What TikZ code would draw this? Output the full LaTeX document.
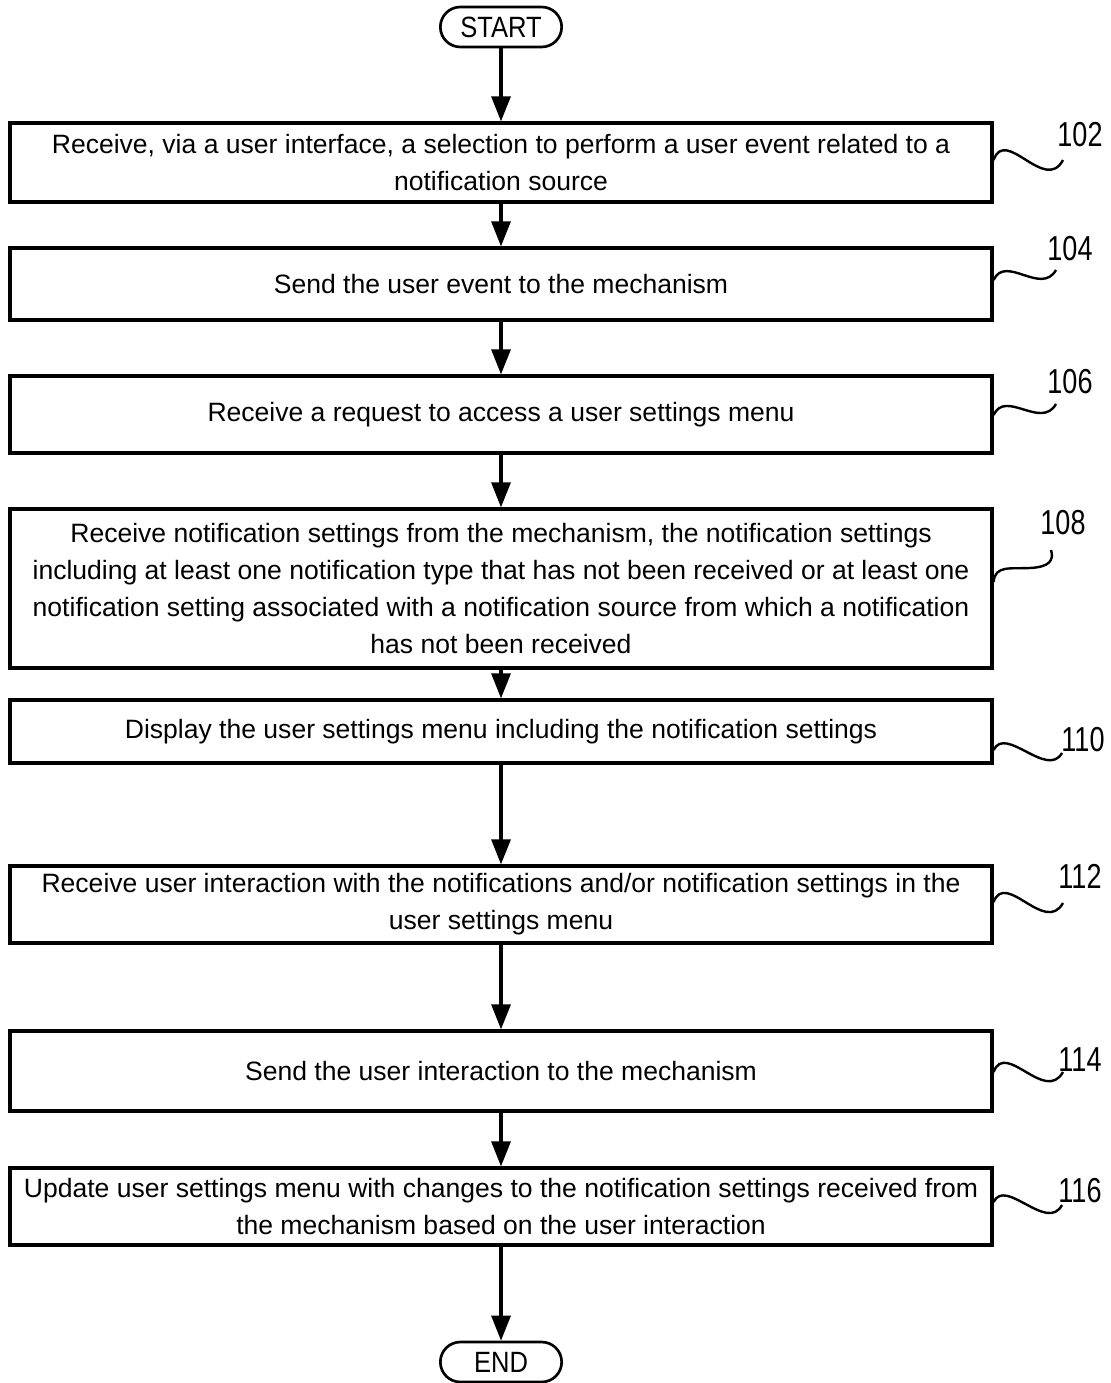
\documentclass[tikz,border=0pt]{standalone}
\usepackage{fontspec}
\setmainfont{Liberation Sans}
\newfontfamily\narrowfont[FakeStretch=0.78]{Liberation Sans}
\newfontfamily\termfont[FakeStretch=0.87]{Liberation Sans}
\usetikzlibrary{arrows.meta}
\begin{document}
\begin{tikzpicture}[x=0.75pt,y=-0.75pt,
  stepbox/.style={draw,line width=2.4pt,minimum width=736.5pt,inner sep=0pt,align=center,
    font=\fontsize{19.9}{27.75}\selectfont},
  term/.style={draw,line width=2pt,rounded corners=15pt,minimum width=91pt,minimum height=30pt,inner sep=0pt,
    font=\termfont\fontsize{22}{24}\selectfont},
  flow/.style={line width=2.3pt,-{Triangle[length=18.75pt,width=14.25pt]}},
  ref/.style={font=\narrowfont\fontsize{26}{28}\selectfont,inner sep=0pt},
  squig/.style={line width=1.8pt}]
\useasboundingbox (0,0) rectangle (1110,1383);
\node[term] (start) at (501,27) {START};
\node[stepbox,minimum height=59.25pt] (b102) at (501,162.5) {Receive, via a user interface, a selection to perform a user event related to a\\notification source};
\node[stepbox,minimum height=54pt] (b104) at (501,284) {Send the user event to the mechanism};
\node[stepbox,minimum height=57.75pt] (b106) at (501,414.5) {Receive a request to access a user settings menu};
\node[stepbox,minimum height=119.25pt] (b108) at (501,588.5) {Receive notification settings from the mechanism, the notification settings\\including at least one notification type that has not been received or at least one\\notification setting associated with a notification source from which a notification\\has not been received};
\node[stepbox,minimum height=47.25pt] (b110) at (501,731.5) {Display the user settings menu including the notification settings};
\node[stepbox,minimum height=57.75pt] (b112) at (501,904.5) {Receive user interaction with the notifications and/or notification settings in the\\user settings menu};
\node[stepbox,minimum height=60pt] (b114) at (501,1071) {Send the user interaction to the mechanism};
\node[stepbox,minimum height=57.75pt] (b116) at (501,1206.5) {Update user settings menu with changes to the notification settings received from\\the mechanism based on the user interaction};
\node[term] (end) at (501,1362) {END};

\draw[flow] (start) -- (b102);
\draw[flow] (b102) -- (b104);
\draw[flow] (b104) -- (b106);
\draw[flow] (b106) -- (b108);
\draw[flow] (b108) -- (b110);
\draw[flow] (b110) -- (b112);
\draw[flow] (b112) -- (b114);
\draw[flow] (b114) -- (b116);
\draw[flow] (b116) -- (end);

\node[ref] (l102) at (1080,135) {102};
\node[ref] (l104) at (1070,249) {104};
\node[ref] (l106) at (1070,382) {106};
\node[ref] (l108) at (1063,523) {108};
\node[ref] (l110) at (1083,740) {110};
\node[ref] (l112) at (1080,876) {112};
\node[ref] (l114) at (1080,1060) {114};
\node[ref] (l116) at (1080,1191) {116};

\coordinate (e102) at (1063,160);
\coordinate (e104) at (1056,270);
\coordinate (e106) at (1056,404);
\coordinate (e108) at (1051,550);
\coordinate (e110) at (1062,753);
\coordinate (e112) at (1063,903);
\coordinate (e114) at (1063,1072);
\coordinate (e116) at (1062,1205);

\draw[squig] (b102.east |- 0,160) .. controls +(12,-34) and +(-18,34) .. (e102);
\draw[squig] (b104.east |- 0,280) .. controls +(12,-26) and +(-15,26) .. (e104);
\draw[squig] (b106.east |- 0,415) .. controls +(12,-26) and +(-15,26) .. (e106);
\draw[squig] (b108.east |- 0,582) .. controls (995,565) and (1010,569) .. (1030,568) .. controls (1050,567) and (1054,560) .. (e108);
\draw[squig] (b110.east |- 0,750) .. controls +(12,-25) and +(-15,26) .. (e110);
\draw[squig] (b112.east |- 0,902) .. controls +(12,-32) and +(-18,32) .. (e112);
\draw[squig] (b114.east |- 0,1072) .. controls +(12,-32) and +(-18,32) .. (e114);
\draw[squig] (b116.east |- 0,1202) .. controls +(12,-25) and +(-15,28) .. (e116);
\end{tikzpicture}
\end{document}
